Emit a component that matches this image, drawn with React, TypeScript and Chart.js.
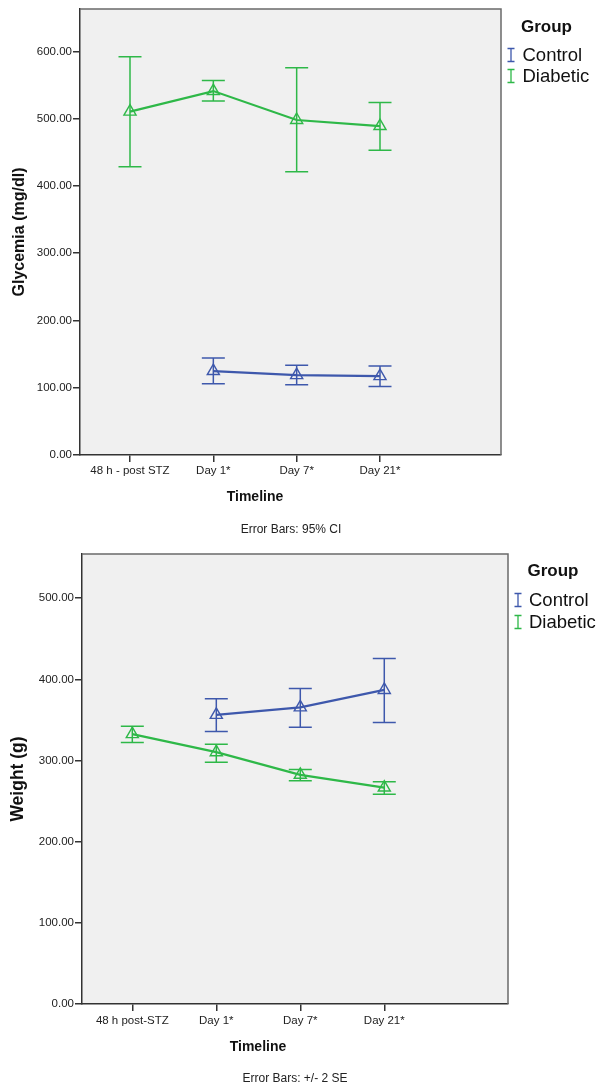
import React, { useEffect, useRef } from "react";
import { Chart, registerables } from "chart.js";

Chart.register(...registerables);

const FONT = "'Liberation Sans', Arial, Helvetica, sans-serif";
const BLUE = "#3E58AC";
const GREEN = "#2EB848";

// ---------- Glycemia chart data ----------
const glyCategories = ["48 h - post STZ", "Day 1*", "Day 7*", "Day 21*"];
const glyYTicks = [0, 100, 200, 300, 400, 500, 600];
const glyControlMean = [null, 124.8, 118.8, 117.3];
const glyControlLow = [null, 106, 104.5, 101.9];
const glyControlHigh = [null, 144.2, 133.3, 132.2];
const glyDiabeticMean = [510.4, 541, 498, 489];
const glyDiabeticLow = [428.4, 526.3, 420.9, 453.1];
const glyDiabeticHigh = [592, 556.7, 575.5, 523.9];

// ---------- Weight chart data ----------
const wCategories = ["48 h post-STZ", "Day 1*", "Day 7*", "Day 21*"];
const wYTicks = [0, 100, 200, 300, 400, 500];
const wControlMean = [null, 356.3, 365.5, 387];
const wControlLow = [null, 335.7, 341.1, 346.8];
const wControlHigh = [null, 376, 388.7, 425.6];
const wDiabeticMean = [332.5, 310.3, 282.4, 266.7];
const wDiabeticLow = [322.2, 298, 275, 258.6];
const wDiabeticHigh = [342.4, 320.2, 288.9, 273.8];

type Series = { mean: (number | null)[]; low: (number | null)[]; high: (number | null)[] };

type Cfg = {
  top: number;
  height: number;
  area: { left: number; top: number; right: number; bottom: number };
  xMin: number;
  xMax: number;
  yMax: number;
  yTicks: number[];
  categories: string[];
  control: Series;
  diabetic: Series;
  yTitle: string;
  yTitleSize: number;
  yTitleX: number;
  xTitleX: number;
  xTitleY: number;
  noteText: string;
  noteX: number;
  noteY: number;
  tickPad: number;
  legend: { groupX: number; groupY: number; textX: number; iconX: number; row1: number; row2: number };
};

const toPoints = (arr: (number | null)[]) =>
  arr.map((v, i) => (v == null ? null : { x: i, y: v })).filter((p) => p !== null) as { x: number; y: number }[];

function ErrorChart({ cfg }: { cfg: Cfg }) {
  const ref = useRef<HTMLCanvasElement>(null);
  useEffect(() => {
    const W = 596;
    const H = cfg.height;
    const bgPlugin = {
      id: "plotBg",
      beforeDraw(chart: any) {
        const { ctx, chartArea: a } = chart;
        ctx.save();
        ctx.fillStyle = "#f0f0f0";
        ctx.fillRect(a.left, a.top, a.right - a.left, a.bottom - a.top);
        ctx.restore();
      },
      afterDraw(chart: any) {
        const { ctx, chartArea: a } = chart;
        ctx.save();
        ctx.strokeStyle = "#6a6a6a";
        ctx.lineWidth = 1.5;
        ctx.beginPath();
        ctx.moveTo(a.left, a.top);
        ctx.lineTo(a.right, a.top);
        ctx.lineTo(a.right, a.bottom);
        ctx.stroke();
        ctx.restore();
      },
    };
    const errPlugin = {
      id: "errBars",
      beforeDatasetsDraw(chart: any) {
        const { ctx } = chart;
        const xs = chart.scales.x;
        const ys = chart.scales.y;
        const groups: [Series, string][] = [
          [cfg.control, BLUE],
          [cfg.diabetic, GREEN],
        ];
        ctx.save();
        groups.forEach(([s, col]) => {
          ctx.strokeStyle = col;
          ctx.lineWidth = 1.5;
          s.mean.forEach((m, i) => {
            const lo = s.low[i];
            const hi = s.high[i];
            if (m == null || lo == null || hi == null) return;
            const x = xs.getPixelForValue(i);
            const y1 = ys.getPixelForValue(hi);
            const y2 = ys.getPixelForValue(lo);
            ctx.beginPath();
            ctx.moveTo(x, y1);
            ctx.lineTo(x, y2);
            ctx.moveTo(x - 11.5, y1);
            ctx.lineTo(x + 11.5, y1);
            ctx.moveTo(x - 11.5, y2);
            ctx.lineTo(x + 11.5, y2);
            ctx.stroke();
          });
        });
        ctx.restore();
      },
    };
    const textPlugin = {
      id: "texts",
      afterDraw(chart: any) {
        const { ctx, chartArea: a } = chart;
        ctx.save();
        ctx.fillStyle = "#111";
        // y title
        ctx.save();
        ctx.translate(cfg.yTitleX, (a.top + a.bottom) / 2);
        ctx.rotate(-Math.PI / 2);
        ctx.font = `bold ${cfg.yTitleSize}px ${FONT}`;
        ctx.textAlign = "center";
        ctx.textBaseline = "middle";
        ctx.fillText(cfg.yTitle, 0, 0);
        ctx.restore();
        // x title
        ctx.font = `bold 14px ${FONT}`;
        ctx.textAlign = "center";
        ctx.textBaseline = "middle";
        ctx.fillText("Timeline", cfg.xTitleX, cfg.xTitleY);
        // note
        ctx.font = `12px ${FONT}`;
        ctx.fillStyle = "#222";
        ctx.fillText(cfg.noteText, cfg.noteX, cfg.noteY);
        // legend
        const L = cfg.legend;
        ctx.fillStyle = "#111";
        ctx.textAlign = "left";
        ctx.font = `bold 17px ${FONT}`;
        ctx.fillText("Group", L.groupX, L.groupY);
        ctx.font = `18.5px ${FONT}`;
        const rows: [string, string, number][] = [
          ["Control", BLUE, L.row1],
          ["Diabetic", GREEN, L.row2],
        ];
        rows.forEach(([label, col, y]) => {
          ctx.strokeStyle = col;
          ctx.lineWidth = 1.3;
          ctx.beginPath();
          ctx.moveTo(L.iconX, y - 6.5);
          ctx.lineTo(L.iconX, y + 6.5);
          ctx.moveTo(L.iconX - 3.5, y - 6.5);
          ctx.lineTo(L.iconX + 3.5, y - 6.5);
          ctx.moveTo(L.iconX - 3.5, y + 6.5);
          ctx.lineTo(L.iconX + 3.5, y + 6.5);
          ctx.stroke();
          ctx.fillStyle = "#111";
          ctx.fillText(label, L.textX, y + 1);
        });
        ctx.restore();
      },
    };
    const mkDs = (label: string, s: Series, col: string) => ({
      label,
      data: toPoints(s.mean),
      borderColor: col,
      backgroundColor: "rgba(0,0,0,0)",
      borderWidth: 2.2,
      pointStyle: "triangle",
      pointRadius: 7,
      pointBorderWidth: 1.4,
      pointBorderColor: col,
      pointBackgroundColor: "rgba(0,0,0,0)",
      tension: 0,
      fill: false,
    });
    const chart = new Chart(ref.current as HTMLCanvasElement, {
      type: "line",
      data: {
        datasets: [mkDs("Control", cfg.control, BLUE), mkDs("Diabetic", cfg.diabetic, GREEN)] as any,
      },
      options: {
        animation: false,
        responsive: false,
        devicePixelRatio: 1,
        layout: { padding: { left: 0, top: cfg.area.top, right: W - cfg.area.right, bottom: 0 } },
        plugins: { legend: { display: false }, tooltip: { enabled: false } },
        scales: {
          x: {
            type: "linear",
            min: cfg.xMin,
            max: cfg.xMax,
            afterBuildTicks: (s: any) => {
              s.ticks = cfg.categories.map((_, i) => ({ value: i }));
            },
            afterFit: (s: any) => {
              s.height = H - cfg.area.bottom;
            },
            ticks: {
              callback: (v: any) => cfg.categories[Number(v)] ?? "",
              font: { family: FONT, size: 11.5 },
              color: "#222",
              padding: cfg.tickPad,
              maxRotation: 0,
              autoSkip: false,
            },
            grid: { drawOnChartArea: false, drawTicks: true, tickLength: 7, color: "#333", lineWidth: 1.5 },
            border: { display: true, color: "#333", width: 1.5 },
          },
          y: {
            type: "linear",
            min: 0,
            max: cfg.yMax,
            afterBuildTicks: (s: any) => {
              s.ticks = cfg.yTicks.map((v) => ({ value: v }));
            },
            afterFit: (s: any) => {
              s.width = cfg.area.left;
            },
            ticks: {
              callback: (v: any) => Number(v).toFixed(2),
              font: { family: FONT, size: 11.5 },
              color: "#222",
              padding: 1,
            },
            grid: { drawOnChartArea: false, drawTicks: true, tickLength: 7, color: "#333", lineWidth: 1.5 },
            border: { display: true, color: "#333", width: 1.5 },
          },
        },
      } as any,
      plugins: [bgPlugin, errPlugin, textPlugin],
    });
    return () => chart.destroy();
  }, [cfg]);
  return (
    <canvas
      ref={ref}
      width={596}
      height={cfg.height}
      style={{ position: "absolute", left: 0, top: cfg.top, width: 596, height: cfg.height, display: "block" }}
    />
  );
}

const glyCfg: Cfg = {
  top: 0,
  height: 545,
  area: { left: 80, top: 9, right: 501, bottom: 455 },
  xMin: -0.6,
  xMax: 4.452,
  yMax: 663,
  yTicks: glyYTicks,
  categories: glyCategories,
  control: { mean: glyControlMean, low: glyControlLow, high: glyControlHigh },
  diabetic: { mean: glyDiabeticMean, low: glyDiabeticLow, high: glyDiabeticHigh },
  yTitle: "Glycemia (mg/dl)",
  yTitleSize: 16,
  yTitleX: 20,
  xTitleX: 255,
  xTitleY: 497,
  noteText: "Error Bars: 95% CI",
  noteX: 291,
  noteY: 530,
  tickPad: 2,
  legend: { groupX: 521, groupY: 27, textX: 522.5, iconX: 511, row1: 55, row2: 76 },
};

const wCfg: Cfg = {
  top: 545,
  height: 547,
  area: { left: 82, top: 9, right: 508, bottom: 459 },
  xMin: -0.599,
  xMax: 4.473,
  yMax: 554.5,
  yTicks: wYTicks,
  categories: wCategories,
  control: { mean: wControlMean, low: wControlLow, high: wControlHigh },
  diabetic: { mean: wDiabeticMean, low: wDiabeticLow, high: wDiabeticHigh },
  yTitle: "Weight (g)",
  yTitleSize: 17.5,
  yTitleX: 18,
  xTitleX: 258,
  xTitleY: 502,
  noteText: "Error Bars: +/- 2 SE",
  noteX: 295,
  noteY: 534,
  tickPad: 3,
  legend: { groupX: 527.5, groupY: 26, textX: 529, iconX: 518, row1: 55, row2: 77 },
};

export default function App() {
  return (
    <div style={{ position: "absolute", left: 0, top: 0, width: 596, height: 1092, background: "#fff" }}>
      <ErrorChart cfg={glyCfg} />
      <ErrorChart cfg={wCfg} />
    </div>
  );
}
